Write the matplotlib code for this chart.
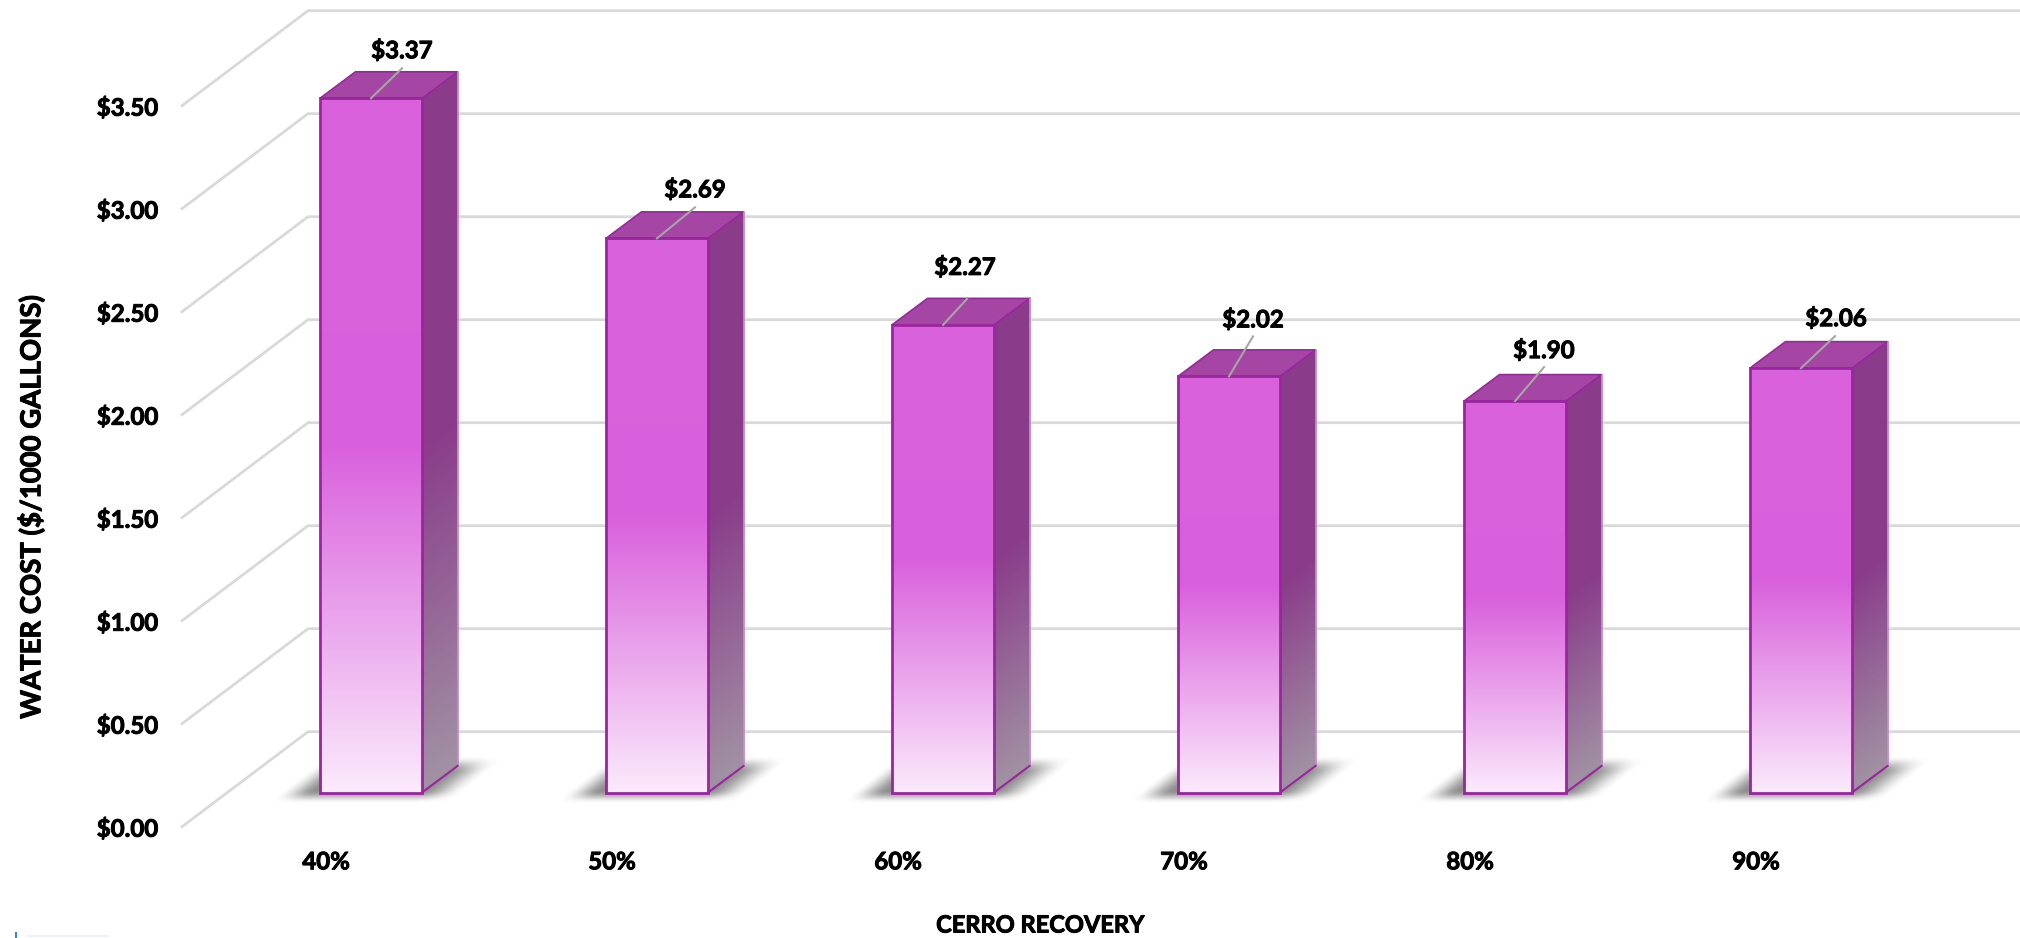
import numpy as np
import matplotlib
matplotlib.use("Agg")
import matplotlib.pyplot as plt
import matplotlib.patheffects as pe
from matplotlib.lines import Line2D
from matplotlib.patches import Polygon
from matplotlib.colors import to_rgb

# ---- data ----
categories = ["40%", "50%", "60%", "70%", "80%", "90%"]
water_cost = [3.37, 2.69, 2.27, 2.02, 1.90, 2.06]
value_labels = ["$3.37", "$2.69", "$2.27", "$2.02", "$1.90", "$2.06"]
y_ticks = [0.0, 0.5, 1.0, 1.5, 2.0, 2.5, 3.0, 3.5]
y_tick_labels = ["$0.00", "$0.50", "$1.00", "$1.50", "$2.00", "$2.50", "$3.00", "$3.50"]
x_title = "CERRO RECOVERY"
y_title = "WATER COST ($/1000 GALLONS)"

# ---- layout (pixels of the 2020x938 figure) ----
W, H = 2020, 938
X0_PX, DX_PX = 326, 286          # first category, spacing
Y0_PX, PER_DOLLAR = 826.7, 206   # $0 on the front of the wall, pixels per dollar
AX_LEFT = 182
sx, sy = 1 / DX_PX, 1 / PER_DOLLAR
BAR_W = 102 * sx
BAR_SHIFT_X, BAR_SHIFT_Y = -6 * sx, 34.2 * sy
DEPTH_X, DEPTH_Y = 35.5 * sx, 26.5 * sy
WALL_X, WALL_Y = 126 * sx, 95 * sy
# label and leader-line offsets from the top centre of each bar's front face
label_offset = [(31, 48), (38, 49), (22, 58), (24, 57), (29, 51), (35, 50)]
leader_offset = [(31, 30), (38, 31), (24, 26), (24, 40), (29, 34), (34, 32)]

plt.rcParams["font.family"] = ["Lato", "DejaVu Sans"]
plt.rcParams["font.weight"] = "bold"
HEAVY = [pe.withStroke(linewidth=0.7, foreground="black")]

fig = plt.figure(figsize=(W / 100, H / 100), dpi=100, facecolor="white")
ax = fig.add_axes([AX_LEFT / W, (H - Y0_PX) / H, 1 - AX_LEFT / W, Y0_PX / H])
xlim = (-(X0_PX - AX_LEFT) * sx, (W - X0_PX) * sx)
ylim = (0, Y0_PX * sy)
for s in ax.spines.values():
    s.set_visible(False)
ax.patch.set_alpha(0)

GRID = "#d9d9d9"
for v in y_ticks:
    ax.plot([xlim[0], xlim[0] + WALL_X, xlim[1]], [v, v + WALL_Y, v + WALL_Y],
            color=GRID, lw=2.0, zorder=1, clip_on=False, solid_joinstyle="miter")

FACE_TOP = np.array(to_rgb("#da63dd"))
FACE_MID = np.array(to_rgb("#d960dc"))
FACE_BOT = np.array(to_rgb("#fbeafc"))
SIDE_TOP = np.array(to_rgb("#8b3d8b"))
SIDE_MID = np.array(to_rgb("#8a3c8b"))
SIDE_BOT = np.array(to_rgb("#a192a3"))
EDGE = "#9a259f"


def ramp(t, a, b, c):
    """t = 0 at the top, 1 at the bottom; hold until half way, then fade."""
    t = np.clip(t, 0, 1)[..., None]
    upper = a + (b - a) * (t / 0.5)
    lower = b + (c - b) * ((t - 0.5) / 0.5)
    return np.where(t < 0.5, upper, lower)


def smooth(v, lo, hi):
    s = np.clip((v - lo) / (hi - lo), 0, 1)
    return s * s * (3 - 2 * s)


# soft ground shadow, in pixels relative to the bar's lower left front corner
sh_x, sh_y = np.meshgrid(np.arange(-60, 230, 1.0), np.arange(42, -14, -1.0))
sh_u = sh_x - sh_y * 1.3
sh_a = (smooth(sh_u, -42, -6) * (1 - smooth(sh_u, 98, 142))
        * smooth(sh_y, -10, 3) * (1 - smooth(sh_y, 20, 37))) * 0.64
shadow = np.zeros(sh_a.shape + (4,))
shadow[..., :3] = 0.30
shadow[..., 3] = sh_a

for i, val in enumerate(water_cost):
    x0 = i + BAR_SHIFT_X
    x1 = x0 + BAR_W
    y0 = BAR_SHIFT_Y
    y1 = val + BAR_SHIFT_Y

    ax.imshow(shadow, extent=(x0 - 60 * sx, x0 + 230 * sx, y0 - 14 * sy, y0 + 42 * sy),
              origin="upper", aspect="auto", zorder=2, interpolation="bilinear")

    # front face
    t = np.linspace(0, 1, 256).reshape(-1, 1)
    ax.imshow(ramp(t, FACE_TOP, FACE_MID, FACE_BOT), extent=(x0, x1, y0, y1), origin="upper",
              aspect="auto", zorder=3, interpolation="bilinear")

    # side face, gradient sheared along the depth direction
    xs, ys = np.meshgrid(np.linspace(0, 1, 40), np.linspace(y1 + DEPTH_Y, y0, 400))
    t = (y1 - (ys - xs * DEPTH_Y)) / (y1 - y0)
    side_pts = [(x1, y0), (x1 + DEPTH_X, y0 + DEPTH_Y), (x1 + DEPTH_X, y1 + DEPTH_Y), (x1, y1)]
    img = ax.imshow(ramp(t, SIDE_TOP, SIDE_MID, SIDE_BOT),
                    extent=(x1, x1 + DEPTH_X, y0, y1 + DEPTH_Y), origin="upper",
                    aspect="auto", zorder=3, interpolation="bilinear")
    clip = Polygon(side_pts, closed=True, transform=ax.transData, fc="none", ec="none")
    ax.add_patch(clip)
    img.set_clip_path(clip)

    # top face
    ax.add_patch(Polygon([(x0, y1), (x1, y1), (x1 + DEPTH_X, y1 + DEPTH_Y), (x0 + DEPTH_X, y1 + DEPTH_Y)],
                         closed=True, fc="#a546a5", ec=EDGE, lw=1.2, zorder=4, joinstyle="round"))
    # outlines
    ax.plot([x1 + DEPTH_X] * 2, [y0 + DEPTH_Y, y1 + DEPTH_Y], color="#c47fca", lw=1.2, zorder=4)
    ax.plot([x1, x1 + DEPTH_X], [y0, y0 + DEPTH_Y], color=EDGE, lw=1.5, zorder=4)
    ax.add_patch(Polygon([(x0, y0), (x1, y0), (x1, y1), (x0, y1)], closed=True,
                         fc="none", ec=EDGE, lw=2.0, zorder=5, joinstyle="miter"))

    # leader line and value label
    cx = (x0 + x1) / 2
    lx, ly = leader_offset[i]
    ax.plot([cx, cx + lx * sx], [y1, y1 + ly * sy], color="#a6a6a6", lw=1.5, zorder=6)
    tx, ty = label_offset[i]
    ax.text(cx + tx * sx, y1 + ty * sy, value_labels[i], ha="center", va="center",
            fontsize=17.3, fontweight="bold", color="black", zorder=7, path_effects=HEAVY)

ax.set_xlim(xlim)
ax.set_ylim(ylim)
ax.set_xticks(range(len(categories)))
ax.set_xticklabels(categories, fontsize=17.3, fontweight="bold", path_effects=HEAVY)
ax.set_yticks(y_ticks)
ax.set_yticklabels(y_tick_labels, fontsize=17.3, fontweight="bold", path_effects=HEAVY)
ax.tick_params(axis="x", length=0, pad=17)
ax.tick_params(axis="y", length=0, pad=17)

fig.text(1040 / W, 1 - 925 / H, x_title, ha="center", va="center", fontsize=17, fontweight="bold",
         path_effects=HEAVY)
fig.text(31 / W, 1 - 507 / H, y_title, ha="center", va="center", rotation=90, fontsize=19.8,
         fontweight="bold", path_effects=HEAVY)

# small cut-off mark at the lower left edge of the picture
fig.add_artist(Line2D([28 / W, 108 / W], [2 / H, 2 / H], color="#eef2f5", lw=1.5))
fig.add_artist(Line2D([15.5 / W, 15.5 / W], [0, 5 / H], color="#3f86b8", lw=1.5))

fig.savefig("out.png", dpi=100)
